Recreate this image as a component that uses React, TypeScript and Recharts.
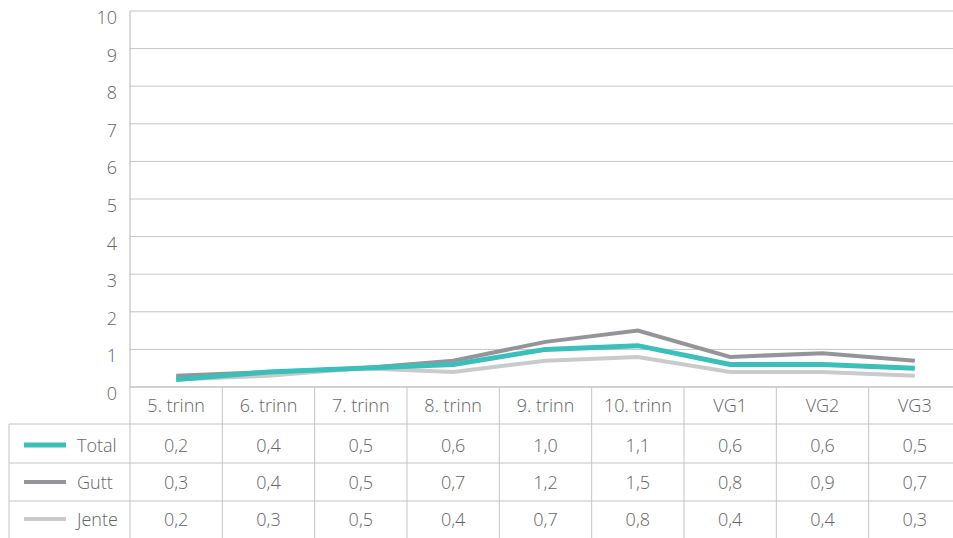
import React from 'react';
import { LineChart, Line, XAxis, YAxis, CartesianGrid } from 'recharts';

const levels = ['5. trinn', '6. trinn', '7. trinn', '8. trinn', '9. trinn', '10. trinn', 'VG1', 'VG2', 'VG3'];
const total = [0.2, 0.4, 0.5, 0.6, 1.0, 1.1, 0.6, 0.6, 0.5];
const gutt = [0.3, 0.4, 0.5, 0.7, 1.2, 1.5, 0.8, 0.9, 0.7];
const jente = [0.2, 0.3, 0.5, 0.4, 0.7, 0.8, 0.4, 0.4, 0.3];
const yTicks = [0, 1, 2, 3, 4, 5, 6, 7, 8, 9, 10];

const series = [
  { key: 'Total', values: total, color: '#3bbfba', width: 5 },
  { key: 'Gutt', values: gutt, color: '#939598', width: 4 },
  { key: 'Jente', values: jente, color: '#c9cacc', width: 4 },
];

const data = levels.map((name, i) => ({
  name,
  Total: total[i],
  Gutt: gutt[i],
  Jente: jente[i],
}));

const W = 961;
const H = 538;
const LEFT = 130;
const BAND = (W - LEFT) / levels.length;
const AXIS_Y = 387;
const ROW_Y = [445, 482, 519];
const ROW_LINES = [424, 463, 501];
const TEXT = '#636467';
const RULE = '#c4c4c4';
const FONT = "'Open Sans', sans-serif";

const fmt = (v: number) => v.toFixed(1).replace('.', ',');

function TableTick(props: any) {
  const { x, index, payload } = props;
  const left = x - BAND / 2;
  return (
    <g fontFamily={FONT} fontWeight={300} fontSize={18} fill={TEXT}>
      {index === 0 && (
        <g>
          {ROW_LINES.map((y) => (
            <line key={y} x1={9} x2={W} y1={y} y2={y} stroke={RULE} strokeWidth={1} />
          ))}
          <line x1={9} x2={9} y1={424} y2={H} stroke={RULE} strokeWidth={1} />
          {series.map((s, r) => (
            <g key={s.key}>
              <line x1={24} x2={66} y1={ROW_Y[r]} y2={ROW_Y[r]} stroke={s.color} strokeWidth={s.width} />
              <text x={77} y={ROW_Y[r]} dominantBaseline="central" fill={TEXT}>
                {s.key}
              </text>
            </g>
          ))}
        </g>
      )}
      <line x1={left} x2={left} y1={AXIS_Y} y2={H} stroke={RULE} strokeWidth={1} />
      <text x={x} y={405} textAnchor="middle" dominantBaseline="central" fill={TEXT}>
        {payload.value}
      </text>
      {series.map((s, r) => (
        <text key={s.key} x={x} y={ROW_Y[r]} textAnchor="middle" dominantBaseline="central" fill={TEXT}>
          {fmt(s.values[index])}
        </text>
      ))}
    </g>
  );
}

function YTick(props: any) {
  const { y, payload } = props;
  return (
    <text
      x={117}
      y={y + 6}
      textAnchor="end"
      dominantBaseline="central"
      fontFamily={FONT}
      fontWeight={300}
      fontSize={18}
      fill={TEXT}
    >
      {payload.value}
    </text>
  );
}

export default function App() {
  return (
    <div style={{ position: 'absolute', left: 0, top: 0, width: 953, height: 538, overflow: 'hidden', background: '#fff' }}>
      <LineChart width={W} height={H} data={data} margin={{ top: 11, right: 0, bottom: 0, left: 0 }}>
        <CartesianGrid vertical={false} stroke={RULE} strokeWidth={1} />
        <XAxis
          dataKey="name"
          height={151}
          interval={0}
          tickLine={false}
          axisLine={{ stroke: RULE }}
          padding={{ left: BAND / 2, right: BAND / 2 }}
          tick={<TableTick />}
        />
        <YAxis
          width={LEFT}
          domain={[0, 10]}
          ticks={yTicks}
          interval={0}
          tickLine={false}
          axisLine={{ stroke: '#b5b5b5' }}
          tick={<YTick />}
        />
        <Line dataKey="Jente" stroke="#c9cacc" strokeWidth={4} dot={false} isAnimationActive={false} />
        <Line dataKey="Gutt" stroke="#939598" strokeWidth={4} dot={false} isAnimationActive={false} />
        <Line dataKey="Total" stroke="#3bbfba" strokeWidth={5} dot={false} isAnimationActive={false} />
      </LineChart>
    </div>
  );
}
